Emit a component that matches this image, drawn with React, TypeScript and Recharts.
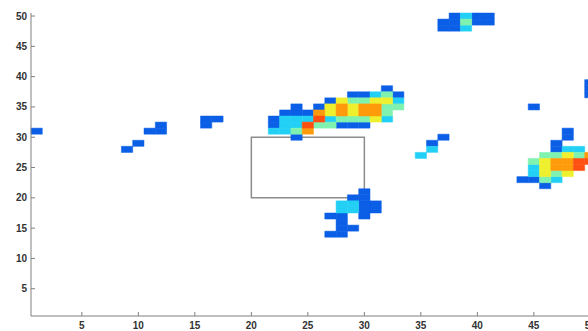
import { ScatterChart, XAxis, YAxis, ReferenceArea } from "recharts";

// grid cells [column, row] grouped by colour level (jet colormap, low -> high)
const axisTicks = [5, 10, 15, 20, 25, 30, 35, 40, 45, 50];
const gridDomain: [number, number] = [0.5, 50.5];

const level1Cells: [number, number][] = [
  [1, 31],
  [9, 28], [10, 29], [11, 31], [12, 31], [12, 32],
  [16, 32], [16, 33], [17, 33],
  [22, 33], [22, 32], [23, 34], [24, 35], [24, 34], [24, 30], [25, 34], [26, 35], [27, 36],
  [28, 32], [29, 32], [30, 32], [29, 37], [30, 37], [32, 38], [33, 37],
  [37, 49], [37, 48], [38, 50], [38, 49], [38, 48], [40, 50], [40, 49], [41, 50], [41, 49],
  [37, 30], [36, 29],
  [45, 35],
  [50, 39], [50, 38], [50, 37], [48, 31], [48, 30], [47, 29], [47, 28], [44, 23], [45, 23], [46, 22],
  [30, 21], [29, 20], [30, 20], [30, 19], [31, 19], [30, 18], [31, 18], [27, 17], [28, 17], [30, 17],
  [28, 16], [28, 15], [29, 15], [27, 14], [28, 14],
];

const level2Cells: [number, number][] = [
  [22, 31], [23, 33], [23, 32], [23, 31], [24, 33], [24, 32], [25, 33], [27, 33],
  [31, 37], [32, 33], [33, 36],
  [39, 50], [39, 48],
  [36, 28], [35, 27],
  [48, 28], [49, 28], [45, 25], [45, 24], [47, 23],
  [28, 19], [29, 19], [28, 18], [29, 18],
];

const level3Cells: [number, number][] = [
  [24, 31], [26, 32], [27, 32], [28, 33], [29, 36], [30, 36], [29, 33], [30, 33],
  [32, 37], [32, 35], [32, 34], [33, 35],
  [39, 49],
  [46, 27], [47, 27], [45, 26], [47, 24], [46, 23], [49, 27],
];

const level4Cells: [number, number][] = [
  [27, 35], [27, 34], [28, 36], [29, 35], [29, 34], [31, 36], [32, 36], [31, 33],
  [48, 27], [46, 26], [46, 25], [46, 24], [48, 24],
];

const level5Cells: [number, number][] = [
  [25, 31], [26, 34], [28, 35], [28, 34], [30, 35], [30, 34], [31, 35], [31, 34],
  [50, 27], [47, 26], [48, 26], [47, 25], [48, 25],
];

const level6Cells: [number, number][] = [
  [25, 32], [26, 33],
  [49, 26], [49, 25], [50, 26],
];

const levelColors = ["#0b5fe6", "#22d0f5", "#7ff2b0", "#eef02e", "#ff9a0a", "#ff5012"];
const levels = [level1Cells, level2Cells, level3Cells, level4Cells, level5Cells, level6Cells];

// gray rectangle drawn over the grid
const boxX = [20, 30];
const boxY = [20, 30];

const tickStyle = {
  fill: "#333",
  fontSize: 10,
  fontWeight: "bold",
  fontFamily: "Liberation Sans, Arial, sans-serif",
};

export default function App() {
  return (
    <div
      style={{
        position: "fixed",
        left: 0,
        top: 0,
        width: 588,
        height: 331,
        overflow: "hidden",
        background: "#fff",
      }}
    >
      <ScatterChart width={600} height={331} margin={{ top: 13, right: 4, bottom: 1, left: 0 }}>
        <XAxis
          xAxisId="top"
          orientation="top"
          type="number"
          domain={gridDomain}
          ticks={axisTicks}
          interval={0}
          height={0}
          tickSize={-4}
          tickFormatter={() => ""}
          stroke="#808080"
          allowDataOverflow
        />
        <XAxis
          type="number"
          dataKey="x"
          domain={gridDomain}
          ticks={axisTicks}
          interval={0}
          height={14}
          tickSize={-4}
          tickMargin={10}
          tick={tickStyle}
          stroke="#808080"
          allowDataOverflow
        />
        <YAxis
          type="number"
          dataKey="y"
          domain={gridDomain}
          ticks={axisTicks}
          interval={0}
          width={31}
          tickSize={-4}
          tickMargin={8}
          tick={tickStyle}
          stroke="#808080"
          allowDataOverflow
        />
        <ReferenceArea
          x1={boxX[0]}
          x2={boxX[1]}
          y1={boxY[0]}
          y2={boxY[1]}
          fill="none"
          stroke="#8c8c8c"
          strokeWidth={1.5}
        />
        {levels.flatMap((cells, li) =>
          cells.map(([cx, cy]) => (
            <ReferenceArea
              key={`${li}-${cx}-${cy}`}
              x1={cx - 0.5}
              x2={cx + 0.5}
              y1={cy - 0.5}
              y2={cy + 0.5}
              fill={levelColors[li]}
              fillOpacity={1}
              stroke={levelColors[li]}
              strokeWidth={0.5}
            />
          ))
        )}
      </ScatterChart>
    </div>
  );
}
